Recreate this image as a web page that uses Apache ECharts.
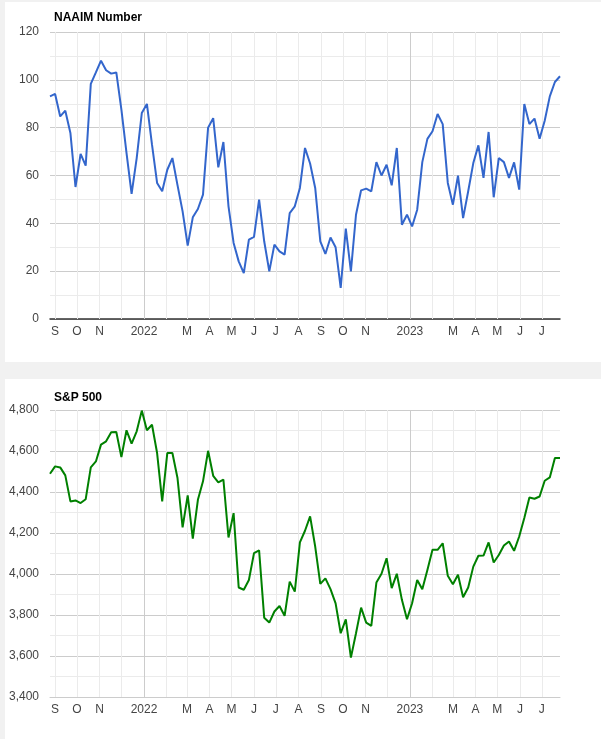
<!DOCTYPE html>
<html>
<head>
<meta charset="utf-8">
<script src="https://cdn.jsdelivr.net/npm/echarts@6/dist/echarts.min.js"></script>
<style>
    html, body { margin: 0; padding: 0; }
    body { width: 601px; height: 739px; background: #f1f1f1; position: relative; overflow: hidden; }
    .panel { position: absolute; left: 5px; width: 596px; background: #fff; }
    #naaim-panel { top: 2px; height: 360px; }
    #spx-panel { top: 379px; height: 360px; }
</style>
</head>
<body>
<div class="panel" id="naaim-panel"></div>
<div class="panel" id="spx-panel"></div>
<script>
// --- 数据 (weekly, Wednesdays) ---
const weeks = [
    '2021-08-25', '2021-09-01', '2021-09-08', '2021-09-15', '2021-09-22', '2021-09-29',
    '2021-10-06', '2021-10-13', '2021-10-20', '2021-10-27', '2021-11-03', '2021-11-10',
    '2021-11-17', '2021-11-24', '2021-12-01', '2021-12-08', '2021-12-15', '2021-12-22',
    '2021-12-29', '2022-01-05', '2022-01-12', '2022-01-19', '2022-01-26', '2022-02-02',
    '2022-02-09', '2022-02-16', '2022-02-23', '2022-03-02', '2022-03-09', '2022-03-16',
    '2022-03-23', '2022-03-30', '2022-04-06', '2022-04-13', '2022-04-20', '2022-04-27',
    '2022-05-04', '2022-05-11', '2022-05-18', '2022-05-25', '2022-06-01', '2022-06-08',
    '2022-06-15', '2022-06-22', '2022-06-29', '2022-07-06', '2022-07-13', '2022-07-20',
    '2022-07-27', '2022-08-03', '2022-08-10', '2022-08-17', '2022-08-24', '2022-08-31',
    '2022-09-07', '2022-09-14', '2022-09-21', '2022-09-28', '2022-10-05', '2022-10-12',
    '2022-10-19', '2022-10-26', '2022-11-02', '2022-11-09', '2022-11-16', '2022-11-23',
    '2022-11-30', '2022-12-07', '2022-12-14', '2022-12-21', '2022-12-28', '2023-01-04',
    '2023-01-11', '2023-01-18', '2023-01-25', '2023-02-01', '2023-02-08', '2023-02-15',
    '2023-02-22', '2023-03-01', '2023-03-08', '2023-03-15', '2023-03-22', '2023-03-29',
    '2023-04-05', '2023-04-12', '2023-04-19', '2023-04-26', '2023-05-03', '2023-05-10',
    '2023-05-17', '2023-05-24', '2023-05-31', '2023-06-07', '2023-06-14', '2023-06-21',
    '2023-06-28', '2023-07-05', '2023-07-12', '2023-07-19', '2023-07-26'
];

const naaimValues = [
    93.1, 94.1, 84.7, 87.1, 77.8, 55.2, 69.0, 64.1, 98.3, 103.1,
    108.0, 104.0, 102.6, 103.1, 87.5, 69.5, 52.3, 67.3, 86.1, 89.9,
    72.9, 56.9, 53.4, 62.4, 67.3, 56.0, 45.0, 30.7, 42.5, 46.0,
    52.0, 80.0, 84.0, 63.4, 74.0, 47.1, 31.8, 24.1, 19.2, 33.2,
    34.3, 49.9, 32.5, 19.9, 31.1, 28.3, 26.9, 44.3, 47.1, 54.8,
    71.5, 65.0, 54.8, 32.5, 27.2, 34.1, 30.0, 13.0, 37.8, 19.9,
    43.6, 53.8, 54.5, 53.4, 65.6, 60.0, 64.5, 55.9, 71.5, 39.4,
    43.6, 38.7, 45.7, 65.6, 75.3, 78.5, 85.7, 81.5, 56.9, 47.8,
    59.9, 42.2, 53.4, 65.2, 72.6, 59.0, 78.2, 50.9, 67.3, 65.6,
    59.0, 65.5, 54.1, 89.9, 81.5, 83.8, 75.4, 82.9, 93.1, 99.1,
    101.5
];

const spxValues = [
    4489, 4525, 4520, 4481, 4354, 4359, 4346, 4365, 4520, 4549,
    4631, 4647, 4691, 4693, 4570, 4701, 4636, 4696, 4797, 4701,
    4728, 4590, 4354, 4590, 4590, 4468, 4227, 4383, 4172, 4362,
    4452, 4601, 4479, 4447, 4460, 4178, 4297, 3934, 3923, 3971,
    4102, 4115, 3787, 3763, 3817, 3844, 3796, 3963, 3914, 4154,
    4211, 4281, 4134, 3952, 3979, 3926, 3857, 3711, 3779, 3592,
    3711, 3836, 3763, 3747, 3958, 4001, 4077, 3931, 4001, 3874,
    3779, 3857, 3971, 3926, 4020, 4118, 4118, 4150, 3991, 3950,
    3996, 3887, 3934, 4036, 4089, 4090, 4154, 4056, 4093, 4139,
    4159, 4113, 4183, 4273, 4373, 4367, 4378, 4455, 4471, 4566,
    4566
];

// month gridlines; year starts drawn darker
const monthStarts = [
    '2021-09-01', '2021-10-01', '2021-11-01', '2021-12-01', '2022-01-01', '2022-02-01',
    '2022-03-01', '2022-04-01', '2022-05-01', '2022-06-01', '2022-07-01', '2022-08-01',
    '2022-09-01', '2022-10-01', '2022-11-01', '2022-12-01', '2023-01-01', '2023-02-01',
    '2023-03-01', '2023-04-01', '2023-05-01', '2023-06-01', '2023-07-01'
];

const tickDates = [
    '2021-09-01', '2021-10-01', '2021-11-01', '2022-01-01', '2022-03-01', '2022-04-01',
    '2022-05-01', '2022-06-01', '2022-07-01', '2022-08-01', '2022-09-01', '2022-10-01',
    '2022-11-01', '2023-01-01', '2023-03-01', '2023-04-01', '2023-05-01', '2023-06-01',
    '2023-07-01'
];
const tickLabels = [
    'S', 'O', 'N', '2022', 'M', 'A', 'M', 'J', 'J', 'A', 'S', 'O',
    'N', '2023', 'M', 'A', 'M', 'J', 'J'
];

// day number (UTC based, so no DST drift)
function dayNum(s) {
    const p = s.split('-');
    return Date.UTC(+p[0], +p[1] - 1, +p[2]) / 86400000;
}

const labelMap = {};
tickDates.forEach((d, i) => { labelMap[dayNum(d)] = tickLabels[i]; });

const FONT = 'Arial, "Liberation Sans", sans-serif';

function buildOption(cfg) {
    const seriesData = weeks.map((d, i) => [dayNum(d), cfg.values[i]]);
    const gridLines = monthStarts.map(d => ({
        xAxis: dayNum(d),
        lineStyle: { color: d.endsWith('-01-01') ? '#cccccc' : '#ebebeb', width: 1, type: 'solid' }
    }));

    return {
        animation: false,
        textStyle: { fontFamily: FONT },
        title: {
            text: cfg.title,
            left: 44,
            top: cfg.titleTop,
            textStyle: { fontFamily: FONT, fontSize: 12, fontWeight: 'bold', color: '#000' }
        },
        grid: { left: 45, right: 41, top: cfg.gridTop, bottom: cfg.gridBottom },
        xAxis: {
            type: 'value',
            min: dayNum(weeks[0]),
            max: dayNum(weeks[weeks.length - 1]),
            axisLine: { show: true, onZero: false, lineStyle: { color: cfg.baseColor, width: cfg.baseWidth } },
            axisTick: { show: false },
            splitLine: { show: false },
            axisLabel: {
                customValues: tickDates.map(dayNum),
                formatter: v => labelMap[v] || '',
                color: '#444',
                fontSize: 12,
                fontFamily: FONT,
                margin: 7,
                hideOverlap: false
            }
        },
        yAxis: {
            type: 'value',
            min: cfg.min,
            max: cfg.max,
            interval: cfg.interval,
            axisLine: { show: false },
            axisTick: { show: false },
            axisLabel: {
                color: '#444',
                fontSize: 12,
                fontFamily: FONT,
                margin: 11,
                formatter: v => v.toLocaleString('en-US')
            },
            splitLine: { show: true, lineStyle: { color: '#cccccc' } },
            minorTick: { show: false, splitNumber: 2 },
            minorSplitLine: { show: true, lineStyle: { color: '#ebebeb' } }
        },
        series: [
            {
                type: 'line',
                z: 1,
                data: [],
                silent: true,
                markLine: {
                    z: 1,
                    silent: true,
                    symbol: ['none', 'none'],
                    label: { show: false },
                    animation: false,
                    data: gridLines
                }
            },
            {
                name: cfg.title,
                type: 'line',
                z: 10,
                data: seriesData,
                showSymbol: false,
                symbol: 'none',
                lineStyle: { color: cfg.color, width: 2 },
                itemStyle: { color: cfg.color }
            }
        ]
    };
}

const naaimChart = echarts.init(document.getElementById('naaim-panel'));
naaimChart.setOption(buildOption({
    title: 'NAAIM Number',
    values: naaimValues,
    min: 0, max: 120, interval: 20,
    color: '#3366cc',
    baseColor: '#333333', baseWidth: 1.5,
    titleTop: 5, gridTop: 30, gridBottom: 43
}));

const spxChart = echarts.init(document.getElementById('spx-panel'));
spxChart.setOption(buildOption({
    title: 'S&P 500',
    values: spxValues,
    min: 3400, max: 4800, interval: 200,
    color: '#008000',
    baseColor: '#cccccc', baseWidth: 1,
    titleTop: 8, gridTop: 31, gridBottom: 42
}));
</script>
</body>
</html>
